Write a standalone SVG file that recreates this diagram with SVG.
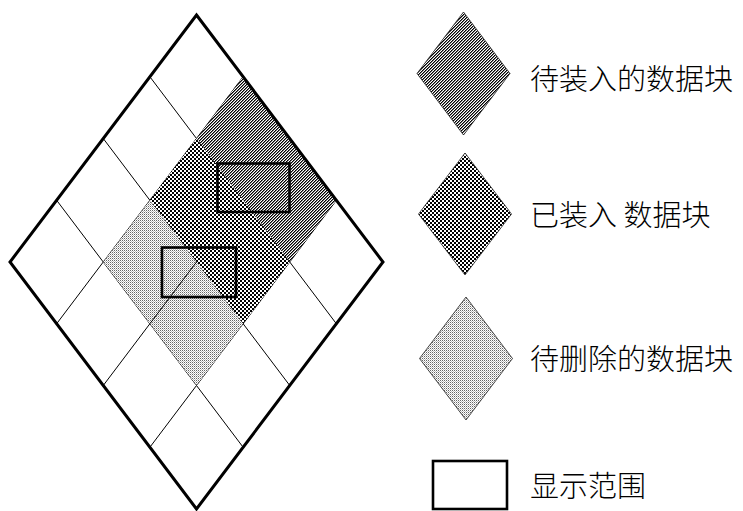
<svg xmlns="http://www.w3.org/2000/svg" width="743" height="511" viewBox="0 0 743 511">
<style>
.grid{fill:none;stroke:#000;stroke-width:1;}
.outer{fill:none;stroke:#000;stroke-width:3;stroke-linejoin:miter;}
.win{fill:none;stroke:#000;stroke-width:2.6;}
.lbl{font-family:"Noto Sans CJK SC","Noto Sans",sans-serif;font-size:29px;font-weight:300;fill:#000;dominant-baseline:central;}
.hatch{fill:url(#pHatch);}
.check{fill:url(#pCheck);}
.dots{fill:url(#pDots);}
.ledge{stroke:#222;stroke-width:0.8;}
</style>
<defs>
<pattern id="pHatch" patternUnits="userSpaceOnUse" width="3" height="3">
<rect x="0" y="0" width="3" height="3" fill="#fff"/>
<rect x="0" y="0" width="1" height="1" fill="#000"/>
<rect x="2" y="1" width="1" height="1" fill="#000"/>
<rect x="1" y="2" width="1" height="1" fill="#000"/>
<rect x="1" y="0" width="1" height="1" fill="#777"/>
<rect x="0" y="1" width="1" height="1" fill="#777"/>
<rect x="2" y="2" width="1" height="1" fill="#777"/>
</pattern>
<pattern id="pCheck" patternUnits="userSpaceOnUse" width="4" height="4">
<rect x="0" y="0" width="4" height="4" fill="#fff"/>
<rect x="0" y="0" width="2" height="2" fill="#000"/>
<rect x="2" y="2" width="2" height="2" fill="#000"/>
</pattern>
<pattern id="pDots" patternUnits="userSpaceOnUse" width="2" height="2">
<rect x="0" y="0" width="2" height="2" fill="#fff"/>
<rect x="0" y="0" width="1" height="1" fill="#666"/>
<rect x="1" y="1" width="1" height="1" fill="#bbb"/>
</pattern>
</defs>
<rect width="743" height="511" fill="#fff"/>

<g id="connectors">
<line class="grid" x1="243.125" y1="76.75" x2="56.625" y2="323.75"/>
<line class="grid" x1="289.75" y1="138.5" x2="103.25" y2="385.5"/>
<line class="grid" x1="336.375" y1="200.25" x2="149.875" y2="447.25"/>
<line class="grid" x1="149.875" y1="76.75" x2="336.375" y2="323.75"/>
<line class="grid" x1="103.25" y1="138.5" x2="289.75" y2="385.5"/>
<line class="grid" x1="56.625" y1="200.25" x2="243.125" y2="447.25"/>
</g>

<g id="block-toload">
<polygon class="hatch" points="243.125,76.75 336.375,200.25 289.75,262 196.5,138.5"/>
</g>
<g id="block-loaded">
<polygon class="check" points="196.5,138.5 289.75,262 243.125,323.75 149.875,200.25"/>
</g>
<g id="block-todelete">
<polygon class="dots" points="149.875,200.25 243.125,323.75 196.5,385.5 103.25,262"/>
<line class="grid" x1="196.5" y1="262" x2="149.875" y2="323.75"/>
</g>

<g id="outer-diamond">
<polygon class="outer" points="196.5,15 383,262 196.5,509 10,262"/>
</g>

<g id="view-1">
<rect class="win" x="217.5" y="163.5" width="72" height="48.5"/>
</g>
<g id="view-2">
<rect class="win" x="162" y="247.5" width="74" height="49.5"/>
</g>

<g id="legend-toload">
<polygon class="hatch ledge" points="463.5,12 510,73.5 463.5,135 417,73.5"/>
<text class="lbl" x="530" y="77">待装入的数据块</text>
</g>
<g id="legend-loaded">
<polygon class="check ledge" points="465,153 511.5,214 465,275 418.5,214"/>
<text class="lbl" x="530" y="213">已装入 数据块</text>
</g>
<g id="legend-todelete">
<polygon class="dots ledge" points="466,297 512.5,358.5 466,420 419.5,358.5"/>
<text class="lbl" x="530" y="357">待删除的数据块</text>
</g>
<g id="legend-view">
<rect class="win" x="433" y="461" width="74" height="48"/>
<text class="lbl" x="530" y="484">显示范围</text>
</g>
</svg>
